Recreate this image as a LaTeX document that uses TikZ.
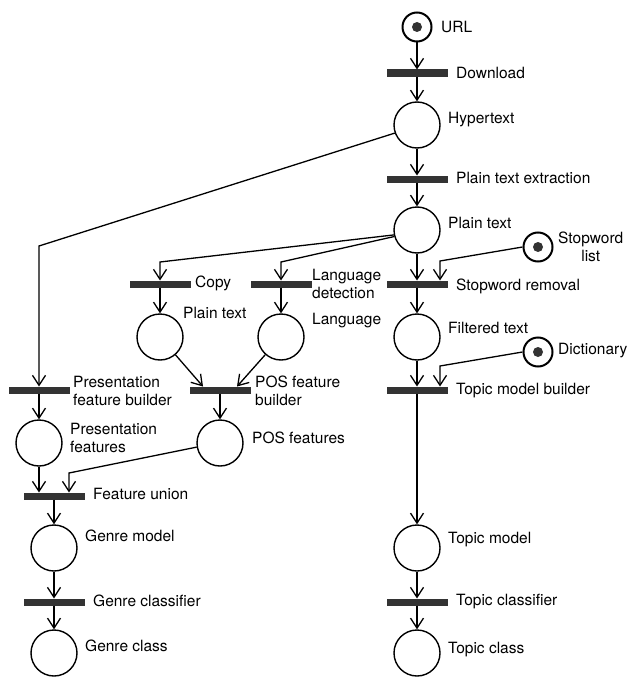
\documentclass[tikz,border=0pt]{standalone}
\usepackage{fontspec}
\setmainfont{TeX Gyre Heros}
\usetikzlibrary{arrows.meta}
\begin{document}
\begin{tikzpicture}[x=1pt,y=-1pt,
  place/.style={draw,circle,line width=1.4pt,minimum size=46pt,inner sep=0pt},
  token/.style={draw,circle,line width=2pt,minimum size=29pt,inner sep=0pt,
    path picture={\fill[black!80] (path picture bounding box.center) circle (5pt);}},
  bar/.style={fill=black!80,rectangle,minimum width=61pt,minimum height=7pt,inner sep=0pt,outer sep=0pt},
  lbl/.style={anchor=west,inner sep=0pt,font=\fontsize{15.5}{18.6}\selectfont,align=left},
  arc/.style={line width=1.3pt,-{Straight Barb[length=10pt,width=13pt,line width=1.3pt]}}]
\useasboundingbox (0,0) rectangle (629,677);
% topic column
\node[token] (url) at (417,27) {};
\node[bar] (dl) at (417,73) {};
\node[place] (ht) at (417,125) {};
\node[bar] (pte) at (417,179) {};
\node[place] (pt) at (417,230) {};
\node[token] (sl) at (538,247) {};
\node[bar] (sr) at (417,284) {};
\node[place] (ft) at (417,337) {};
\node[token] (dict) at (538,352) {};
\node[bar] (tmb) at (417,390) {};
\node[place] (tm) at (417,548) {};
\node[bar] (tcl) at (417,602) {};
\node[place] (tc) at (417,653) {};
% genre column
\node[bar] (cpy) at (160,284) {};
\node[bar] (ld) at (281,284) {};
\node[place] (cp) at (160,337) {};
\node[place] (lg) at (281,337) {};
\node[bar] (pfb) at (39,390) {};
\node[bar] (posb) at (220,390) {};
\node[place] (pf) at (39,443) {};
\node[place] (pos) at (220,443) {};
\node[bar] (fu) at (54,496) {};
\node[place] (gm) at (54,548) {};
\node[bar] (gcl) at (54,602) {};
\node[place] (gc) at (54,653) {};
% labels
\node[lbl] (lurl) at (441,27) {URL};
\node[lbl] (ldl) at (456,73) {Download};
\node[lbl] (lht) at (448,120) {Hypertext};
\node[lbl] (lpte) at (456,178) {Plain text extraction};
\node[lbl] (lpt) at (448,223) {Plain text};
\node[lbl,align=center] (lsl) at (558,247) {Stopword\\list};
\node[lbl] (lsr) at (456,286) {Stopword removal};
\node[lbl] (lft) at (448,328) {Filtered text};
\node[lbl] (ldict) at (558,351) {Dictionary};
\node[lbl] (ltmb) at (456,391) {Topic model builder};
\node[lbl] (ltm) at (448,540) {Topic model};
\node[lbl] (ltcl) at (456,602) {Topic classifier};
\node[lbl] (ltc) at (448,650) {Topic class};
\node[lbl] (lcpy) at (195,283) {Copy};
\node[lbl] (lld) at (312,284) {Language\\detection};
\node[lbl] (lcp) at (183,313) {Plain text};
\node[lbl] (llg) at (312,321) {Language};
\node[lbl] (lpfb) at (73,391) {Presentation\\feature builder};
\node[lbl] (lposb) at (255,391) {POS feature\\builder};
\node[lbl] (lpf) at (70,438) {Presentation\\features};
\node[lbl] (lpos) at (252,438) {POS features};
\node[lbl] (lfu) at (93,494) {Feature union};
\node[lbl] (lgm) at (85,536) {Genre model};
\node[lbl] (lgcl) at (93,601) {Genre classifier};
\node[lbl] (lgc) at (85,646) {Genre class};
% arcs
\draw[arc] (url) -- (dl.north);
\draw[arc] (dl) -- (ht);
\draw[arc] (ht) -- (pte.north);
\draw[arc] (pte) -- (pt);
\draw[arc] (pt) -- (sr.north);
\draw[arc] (sl.west) -- (440,261) -- (sr.north -| 440,0);
\draw[arc] (sr) -- (ft);
\draw[arc] (ft) -- (tmb.north);
\draw[arc] (dict.west) -- (440,366) -- (tmb.north -| 440,0);
\draw[arc] (tmb) -- (tm);
\draw[arc] (tm) -- (tcl.north);
\draw[arc] (tcl) -- (tc);
\draw[arc] (ht.200) -- (pfb.north |- 0,246) -- (pfb.north);
\draw[arc] (pt.192) -- (cpy.north |- 0,262) -- (cpy.north);
\draw[arc] (pt.196) -- (ld.north |- 0,262) -- (ld.north);
\draw[arc] (cpy) -- (cp);
\draw[arc] (ld) -- (lg);
\draw[arc] (cp) -- (posb.north -| 203,0);
\draw[arc] (lg) -- (posb.north -| 237,0);
\draw[arc] (posb) -- (pos);
\draw[arc] (pfb) -- (pf);
\draw[arc] (pf) -- (fu.north -| pf);
\draw[arc] (pos.190) -- (69,473) -- (fu.north -| 69,0);
\draw[arc] (fu) -- (gm);
\draw[arc] (gm) -- (gcl.north);
\draw[arc] (gcl) -- (gc);
\end{tikzpicture}
\end{document}
